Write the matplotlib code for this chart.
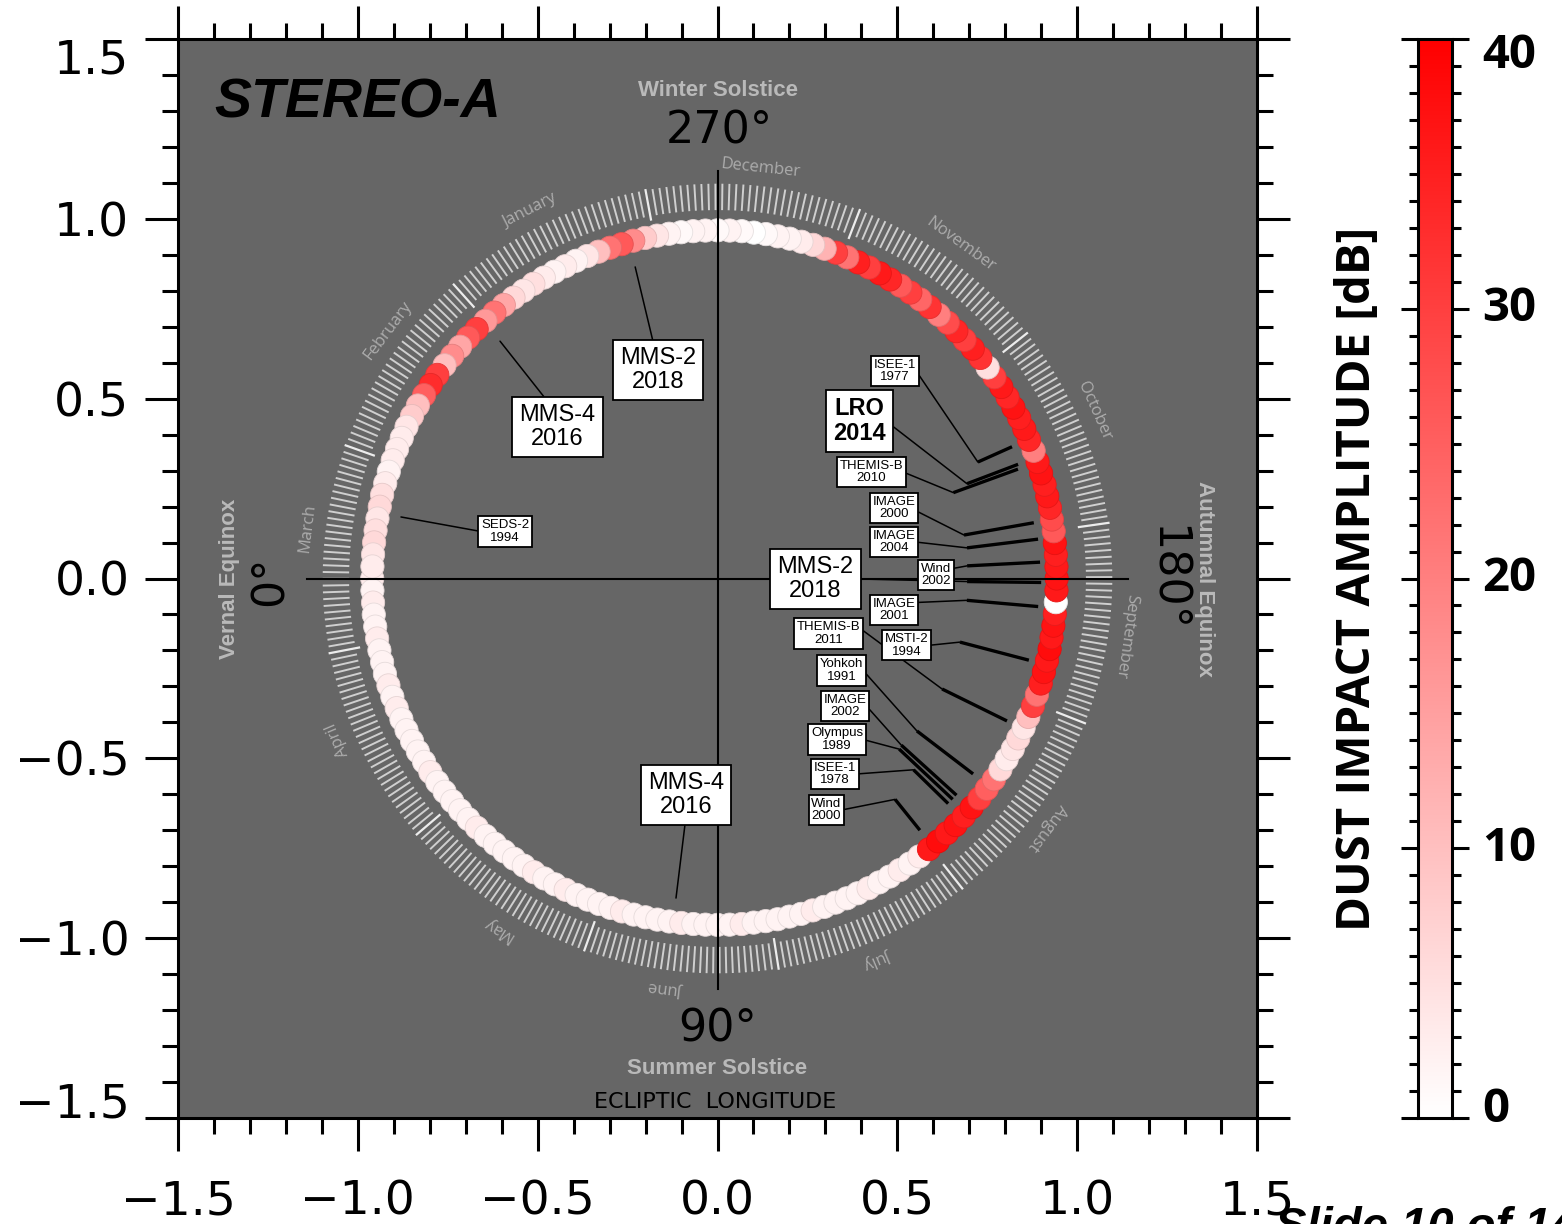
import numpy as np
import matplotlib.pyplot as plt
from matplotlib.colors import LinearSegmentedColormap, Normalize
from matplotlib.cm import ScalarMappable
from matplotlib.ticker import MultipleLocator, FixedLocator
import matplotlib.transforms as mtransforms

# STEREO-A samples: ecliptic longitude [deg], distance [AU], dust impact amplitude [dB]
lon = np.arange(0, 360, 2)
dist = [0.960, 0.960, 0.960, 0.961, 0.961, 0.961, 0.961, 0.961, 0.962, 0.962,
        0.962, 0.962, 0.962, 0.962, 0.962, 0.962, 0.962, 0.963, 0.963, 0.963,
        0.963, 0.963, 0.963, 0.963, 0.963, 0.963, 0.963, 0.963, 0.963, 0.963,
        0.963, 0.963, 0.963, 0.963, 0.963, 0.963, 0.963, 0.963, 0.963, 0.963,
        0.963, 0.963, 0.963, 0.963, 0.963, 0.963, 0.963, 0.963, 0.962, 0.962,
        0.962, 0.961, 0.961, 0.960, 0.960, 0.959, 0.959, 0.958, 0.958, 0.957,
        0.957, 0.956, 0.956, 0.955, 0.955, 0.954, 0.953, 0.953, 0.952, 0.951,
        0.951, 0.950, 0.950, 0.949, 0.948, 0.948, 0.947, 0.947, 0.946, 0.946,
        0.945, 0.945, 0.944, 0.944, 0.944, 0.943, 0.943, 0.943, 0.943, 0.943,
        0.943, 0.943, 0.943, 0.943, 0.944, 0.944, 0.945, 0.945, 0.946, 0.946,
        0.947, 0.948, 0.948, 0.949, 0.950, 0.950, 0.951, 0.952, 0.952, 0.953,
        0.954, 0.955, 0.955, 0.956, 0.957, 0.957, 0.958, 0.959, 0.959, 0.960,
        0.960, 0.961, 0.962, 0.962, 0.963, 0.964, 0.964, 0.965, 0.965, 0.966,
        0.966, 0.967, 0.967, 0.968, 0.968, 0.968, 0.968, 0.968, 0.968, 0.968,
        0.968, 0.968, 0.968, 0.967, 0.967, 0.967, 0.967, 0.967, 0.966, 0.966,
        0.966, 0.966, 0.965, 0.965, 0.965, 0.965, 0.964, 0.964, 0.964, 0.963,
        0.963, 0.963, 0.963, 0.962, 0.962, 0.962, 0.962, 0.962, 0.961, 0.961,
        0.961, 0.961, 0.961, 0.961, 0.960, 0.960, 0.960, 0.960, 0.960, 0.960]
amp = [3, 2, 3, 2, 2, 3, 2, 2, 2, 3,
       2, 3, 2, 2, 2, 2, 2, 3, 2, 2,
       2, 2, 2, 3, 2, 2, 2, 2, 2, 3,
       2, 2, 3, 2, 2, 2, 2, 3, 2, 2,
       2, 2, 3, 2, 2, 2, 2, 3, 2, 2,
       2, 2, 2, 3, 2, 2, 2, 2, 3, 2,
       2, 3, 2, 3, 36, 38, 36, 37, 35, 37,
       30, 25, 22, 6, 3, 4, 6, 4, 10, 30,
       22, 35, 37, 36, 38, 36, 37, 35, 0, 36,
       37, 36, 35, 37, 26, 28, 34, 36, 35, 37,
       36, 20, 34, 36, 35, 37, 34, 36, 30, 5,
       32, 35, 30, 34, 28, 20, 32, 24, 30, 26,
       34, 36, 30, 35, 22, 30, 12, 6, 3, 2,
       2, 1, 0, 1, 2, 1, 2, 2, 1, 2,
       4, 8, 18, 26, 22, 10, 4, 2, 3, 2,
       3, 5, 4, 6, 14, 22, 16, 30, 26, 14,
       18, 10, 30, 33, 25, 10, 8, 4, 3, 3,
       3, 2, 3, 5, 6, 4, 5, 6, 4, 3]

month_names = ['January', 'February', 'March', 'April', 'May', 'June', 'July',
               'August', 'September', 'October', 'November', 'December']
month_days = [31, 28, 31, 30, 31, 30, 31, 31, 30, 31, 30, 31]
month_start_lon = [280.5, 311.9, 340.3, 10.9, 40.4, 70.3, 98.9, 128.3, 158.5,
                   188.1, 218.4, 248.9]
month_label_lon = [297, 323, 353, 23, 58, 83, 113, 143, 172, 204, 234, 264]

# (label, box centre, leader target lon, target r, segment outer r, relpos, size, bold)
missions = [
    ('MMS-2\n2018', (-0.165, 0.580), 284.8, 0.896, None, (0.45, 1.0), 17, False),
    ('MMS-4\n2016', (-0.445, 0.421), 312.5, 0.895, None, (0.4, 1.0), 17, False),
    ('MMS-2\n2018', (0.2725, -0.001), 179.3, 0.694, 0.900, (1.0, 0.5), 17, False),
    ('MMS-4\n2016', (-0.088, -0.601), 82.6, 0.896, None, (0.5, 0.0), 17, False),
    ('LRO\n2014', (0.395, 0.438), 200.8, 0.742, 0.894, (1.0, 0.5), 17, True),
    ('ISEE-1\n1977', (0.4935, 0.577), 204.1, 0.793, 0.897, (1.0, 0.5), 9.5, False),
    ('THEMIS-B\n2010', (0.428, 0.296), 200.0, 0.698, 0.889, (1.0, 0.5), 9.5, False),
    ('IMAGE\n2000', (0.4907, 0.196), 190.0, 0.696, 0.893, (1.0, 0.4), 9.5, False),
    ('IMAGE\n2004', (0.4907, 0.1015), 187.0, 0.699, 0.898, (1.0, 0.5), 9.5, False),
    ('Wind\n2002', (0.6075, 0.0097), 182.9, 0.695, 0.898, (1.0, 0.75), 9.5, False),
    ('IMAGE\n2001', (0.4907, -0.0876), 175.0, 0.696, 0.895, (1.0, 0.8), 9.5, False),
    ('THEMIS-B\n2011', (0.3086, -0.153), 153.8, 0.696, 0.897, (1.0, 0.7), 9.5, False),
    ('MSTI-2\n1994', (0.5255, -0.186), 165.3, 0.697, 0.895, (1.0, 0.5), 9.5, False),
    ('Yohkoh\n1991', (0.3448, -0.256), 142.6, 0.698, 0.8945, (1.0, 0.5), 9.5, False),
    ('IMAGE\n2002', (0.3545, -0.3545), 137.8, 0.690, 0.897, (1.0, 0.5), 9.5, False),
    ('Olympus\n1989', (0.3322, -0.4476), 136.8, 0.693, 0.897, (1.0, 0.5), 9.5, False),
    ('ISEE-1\n1978', (0.3267, -0.5436), 135.7, 0.7615, 0.896, (1.0, 0.5), 9.5, False),
    ('Wind\n2000', (0.3031, -0.6436), 128.8, 0.788, 0.898, (1.0, 0.5), 9.5, False),
    ('SEDS-2\n1994', (-0.5908, 0.1307), 349.0, 0.8965, None, (0.0, 0.5), 9.5, False),
]


def to_xy(lam, r):
    th = np.radians(np.asarray(lam) + 180.0)
    return r * np.cos(th), r * np.sin(th)


fig = plt.figure(figsize=(15.62, 12.24), dpi=100)
ax = fig.add_axes([178 / 1562, 106 / 1224, 1079 / 1562, 1079 / 1224])
cax = fig.add_axes([1418 / 1562, 106 / 1224, 34 / 1562, 1079 / 1224])

ax.set_facecolor('#666666')
ax.set_xlim(-1.5, 1.5)
ax.set_ylim(-1.5, 1.5)

# axis ticks
major = [-1.5, -1.0, -0.5, 0.0, 0.5, 1.0, 1.5]
ax.xaxis.set_major_locator(FixedLocator(major))
ax.yaxis.set_major_locator(FixedLocator(major))
ax.xaxis.set_minor_locator(MultipleLocator(0.1))
ax.yaxis.set_minor_locator(MultipleLocator(0.1))
ax.tick_params(which='both', direction='out', top=True, right=True, width=2.2)
ax.tick_params(which='major', length=24, labelsize=34)
ax.tick_params(which='minor', length=11.5)
ax.tick_params(axis='x', pad=20)
ax.tick_params(axis='y', pad=11)
for sp in ax.spines.values():
    sp.set_linewidth(2.2)
yticks = ax.yaxis.get_major_ticks()
yticks[0].label1.set_va('baseline')
yticks[-1].label1.set_va('top')

# calendar ring
for m in range(12):
    s = month_start_lon[m]
    e = month_start_lon[(m + 1) % 12]
    span = (e - s) % 360
    for k in range(month_days[m]):
        lam = s + k * span / month_days[m]
        if k == 0:
            x, y = to_xy([lam, lam], np.array([1.015, 1.098]))
            ax.plot(x, y, color='#ececec', lw=1.6, zorder=2)
        else:
            x, y = to_xy([lam, lam], np.array([1.027, 1.095]))
            ax.plot(x, y, color='#cfcfcf', lw=1.4, zorder=2)
    tx, ty = to_xy(month_label_lon[m], 1.148)
    ax.text(tx, ty, month_names[m], rotation=month_label_lon[m] + 90,
            rotation_mode='anchor', ha='center', va='center',
            fontsize=12, color='#acacac', family=['Open Sans', 'DejaVu Sans'], zorder=3)

# data ring
cmap = LinearSegmentedColormap.from_list('wr', ['#ffffff', '#ff0000'])
norm = Normalize(0, 40)
px, py = to_xy(lon, np.array(dist))
fc = cmap(norm(np.array(amp)))
ec = fc.copy()
ec[:, :3] *= 0.9
ax.scatter(px, py, s=280, c=fc, edgecolors=ec, linewidths=0.6, zorder=4)

# crosshair
ax.plot([-1.14, 1.14], [0, 0], color='black', lw=1.5, zorder=5)
ax.plot([0, 0], [-1.14, 1.134], color='black', lw=1.5, zorder=5)

# missions
for text, (bx, by), tl, tr, r1, rel, size, bold in missions:
    tx, ty = to_xy(tl, tr)
    pad = 0.3 if size > 12 else 0.2
    ax.annotate(text, xy=(tx, ty), xytext=(bx, by), ha='center', va='center',
                fontsize=size, fontweight='bold' if bold else 'normal',
                family=['Liberation Sans', 'DejaVu Sans'], linespacing=1.1,
                bbox=dict(boxstyle='square,pad=%s' % pad, fc='white', ec='black', lw=1.3),
                arrowprops=dict(arrowstyle='-', color='black', lw=1.1,
                                shrinkA=0, shrinkB=0, relpos=rel),
                zorder=6)
    if r1 is not None:
        sx, sy = to_xy([tl, tl], np.array([tr, r1]))
        ax.plot(sx, sy, color='black', lw=2.4, solid_capstyle='butt', zorder=6)

# labels
gray = '#b9b9b9'
ax.text(-0.999, 1.322, 'STEREO-A', fontsize=40, fontweight='bold', style='italic',
        family=['Liberation Sans'], ha='center', va='center', zorder=7)
ax.text(0.0, 1.358, 'Winter Solstice', fontsize=16, fontweight='bold', color=gray,
        family=['Liberation Sans'], ha='center', va='center', zorder=7)
ax.text(0.004, 1.244, '270°', fontsize=32, ha='center', va='center', zorder=7)
ax.text(0.0, -1.253, '90°', fontsize=32, ha='center', va='center', zorder=7)
ax.text(0.0, -1.361, 'Summer Solstice', fontsize=16, fontweight='bold', color=gray,
        family=['Liberation Sans'], ha='center', va='center', zorder=7)
ax.text(-0.007, -1.455, 'ECLIPTIC  LONGITUDE', fontsize=16,
        family=['DejaVu Sans'], ha='center', va='center', zorder=7)
ax.text(-1.358, 0.0, 'Vernal Equinox', fontsize=16, fontweight='bold', color=gray,
        family=['Liberation Sans'], rotation=90, ha='center', va='center', zorder=7)
ax.text(-1.244, -0.007, '0°', fontsize=32, rotation=90, ha='center', va='center', zorder=7)
ax.text(1.355, 0.0, 'Autumnal Equinox', fontsize=16, fontweight='bold', color=gray,
        family=['Liberation Sans'], rotation=-90, ha='center', va='center', zorder=7)
ax.text(1.247, 0.0, '180°', fontsize=32, rotation=-90, ha='center', va='center', zorder=7)

# colorbar
sm = ScalarMappable(norm=norm, cmap=cmap)
cb = fig.colorbar(sm, cax=cax)
cb.outline.set_linewidth(2.2)
cax.yaxis.set_major_locator(MultipleLocator(10))
cax.yaxis.set_minor_locator(MultipleLocator(1))
cax.tick_params(which='both', direction='out', left=True, right=True,
                labelleft=False, labelright=False, width=2.2)
cax.tick_params(which='major', length=12)
cax.tick_params(which='minor', length=6.5)
trans = mtransforms.blended_transform_factory(cax.transAxes, cax.transData)
for v in [0, 10, 20, 30, 40]:
    va = 'center'
    yv = v
    if v == 40:
        va = 'top'
        yv = 40.25
    elif v == 0:
        va = 'baseline'
        yv = -0.15
    cax.text(1.9, yv, str(v), transform=trans, ha='left', va=va, fontsize=34,
             fontweight='bold', family=['Open Sans', 'DejaVu Sans'])
fig.text(1357 / 1562, 1 - 578.5 / 1224, 'DUST IMPACT AMPLITUDE [dB]', rotation=90,
         ha='center', va='center', fontsize=34, fontweight='bold',
         family=['Open Sans', 'DejaVu Sans'])

fig.text(1275 / 1562, 1 - 1206 / 1224, 'Slide 10 of 14', ha='left', va='top',
         fontsize=34, fontweight='bold', style='italic',
         family=['Liberation Sans', 'DejaVu Sans'])

fig.savefig('out.png', dpi=100)
